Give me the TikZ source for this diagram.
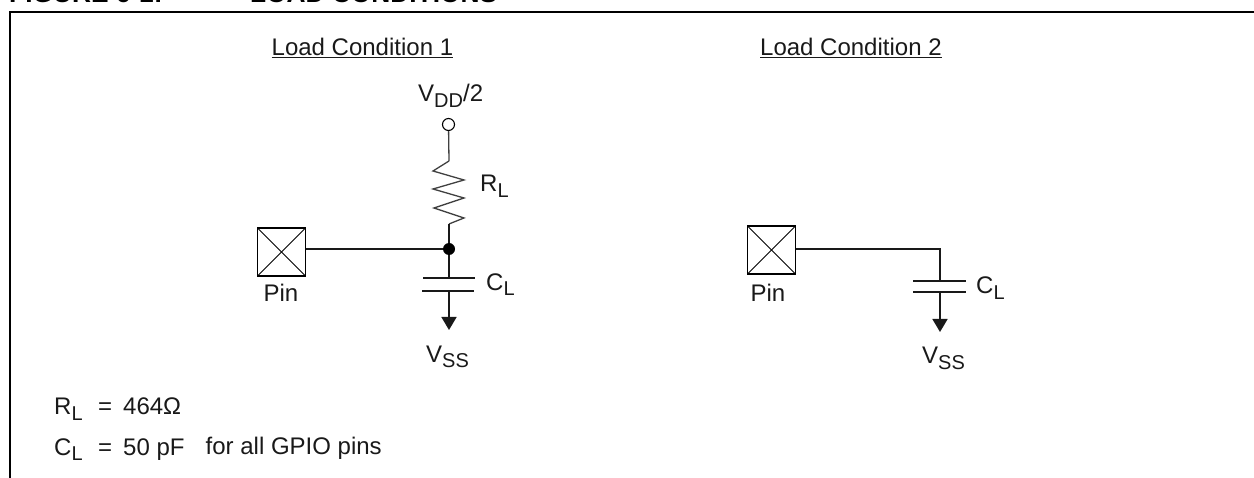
\documentclass[tikz,border=0pt]{standalone}
\usepackage{fontspec}
\setmainfont{Liberation Sans}
\usetikzlibrary{arrows.meta}
\tikzset{
	wire/.style={line width=1.7pt, color=black!90},
	thin wire/.style={line width=1.3pt, color=black!75},
	label/.style={inner sep=0pt, font=\fontsize{24}{28}\selectfont, text=black!90},
	headline/.style={anchor=base west, inner sep=0pt, font=\fontsize{26.3}{30}\selectfont\bfseries},
	plate/.style={line width=1.7pt, color=black!90},
	ground/.style={line width=1.7pt, color=black!90, -{Triangle[width=15pt,length=13pt]}},
	pin box/.style={draw, line width=1.7pt, minimum size=48pt, inner sep=0pt, outer sep=0pt}
}
\newcommand{\subtext}[2]{#1\raisebox{-5.5pt}{\fontsize{20}{24}\selectfont #2}}
\begin{document}
\begin{tikzpicture}[x=1pt,y=-1pt]
	\useasboundingbox (0,0) rectangle (1254,478);
	
	%%%%% FRAME %%%%%
	\node[headline] (title) at (9,3) {FIGURE 6-1:};
	\node[headline] (heading) at (250,3) {LOAD CONDITIONS};
	\draw[line width=2pt] (10,478) -- (10,12) -- (1254,12);
	
	%%%%% CONDITION 1 %%%%%
	\node[label, anchor=base west] (cond one) at (271.5,56) {\underline{Load Condition 1}};
	\node[label, anchor=base west] (vdd) at (418,102) {\subtext{V}{DD}/2};
	\node[circle, draw, line width=1.1pt, minimum size=12pt, inner sep=0pt] (open) at (448.5,124.5) {};
	\coordinate (rtop) at (449,161);
	\coordinate (rbot) at (449,224);
	\node[circle, fill=black, minimum size=12pt, inner sep=0pt] (dot) at (449,249) {};
	\node[pin box] (pin one) at (281.5,252) {};
	\draw[line width=0.8pt] (pin one.north west) -- (pin one.south east);
	\draw[line width=0.8pt] (pin one.north east) -- (pin one.south west);
	\node[label, anchor=base] (pin text one) at (281,302) {Pin};
	\draw[thin wire] (open) -- (rtop);
	\draw[thin wire] (rtop) -- (433,171) -- (464,180) -- (433,189) -- (464,198) -- (434,208) -- (464,218) -- (rbot);
	\draw[wire] (rbot) -- (dot);
	\draw[wire] (pin one.east |- dot) -- (dot);
	\coordinate (cone top) at (449,278);
	\coordinate (cone bot) at (449,291);
	\draw[wire] (dot) -- (cone top);
	\draw[plate] (423,278) -- (475,278);
	\draw[plate] (422,291) -- (474,291);
	\node[label, anchor=base west] (rl) at (480,192) {\subtext{R}{L}};
	\node[label, anchor=base west] (cl one) at (486,290.5) {\subtext{C}{L}};
	\coordinate (gnd one) at (449,330);
	\draw[ground] (cone bot) -- (gnd one);
	\node[label, anchor=base west] (vss one) at (426,362.5) {\subtext{V}{SS}};
	
	%%%%% CONDITION 2 %%%%%
	\node[label, anchor=base west] (cond two) at (760,56) {\underline{Load Condition 2}};
	\node[pin box] (pin two) at (771.5,250) {};
	\draw[line width=0.8pt] (pin two.north west) -- (pin two.south east);
	\draw[line width=0.8pt] (pin two.north east) -- (pin two.south west);
	\node[label, anchor=base] (pin text two) at (768,302) {Pin};
	\coordinate (ctwo top) at (940,281);
	\coordinate (ctwo bot) at (940,292);
	\draw[wire] (pin two.east |- 0,249) -- (940,249) -- (ctwo top);
	\draw[plate] (913,281) -- (966,281);
	\draw[plate] (913,292) -- (966,292);
	\node[label, anchor=base west] (cl two) at (976,294) {\subtext{C}{L}};
	\coordinate (gnd two) at (940,332);
	\draw[ground] (ctwo bot) -- (gnd two);
	\node[label, anchor=base west] (vss two) at (922,364) {\subtext{V}{SS}};
	
	%%%%% VALUES %%%%%
	\node[label, anchor=base west] (rl value) at (54,415) {\subtext{R}{L}};
	\node[label, anchor=base west] (rl eq) at (98,415) {=};
	\node[label, anchor=base west] (rl num) at (123,415) {464Ω};
	\node[label, anchor=base west] (cl value) at (54,455) {\subtext{C}{L}};
	\node[label, anchor=base west] (cl eq) at (98,455) {=};
	\node[label, anchor=base west] (cl num) at (123,455) {50 pF};
	\node[label, anchor=base west] (cl note) at (205.5,454.5) {for all GPIO pins};
\end{tikzpicture}
\end{document}
